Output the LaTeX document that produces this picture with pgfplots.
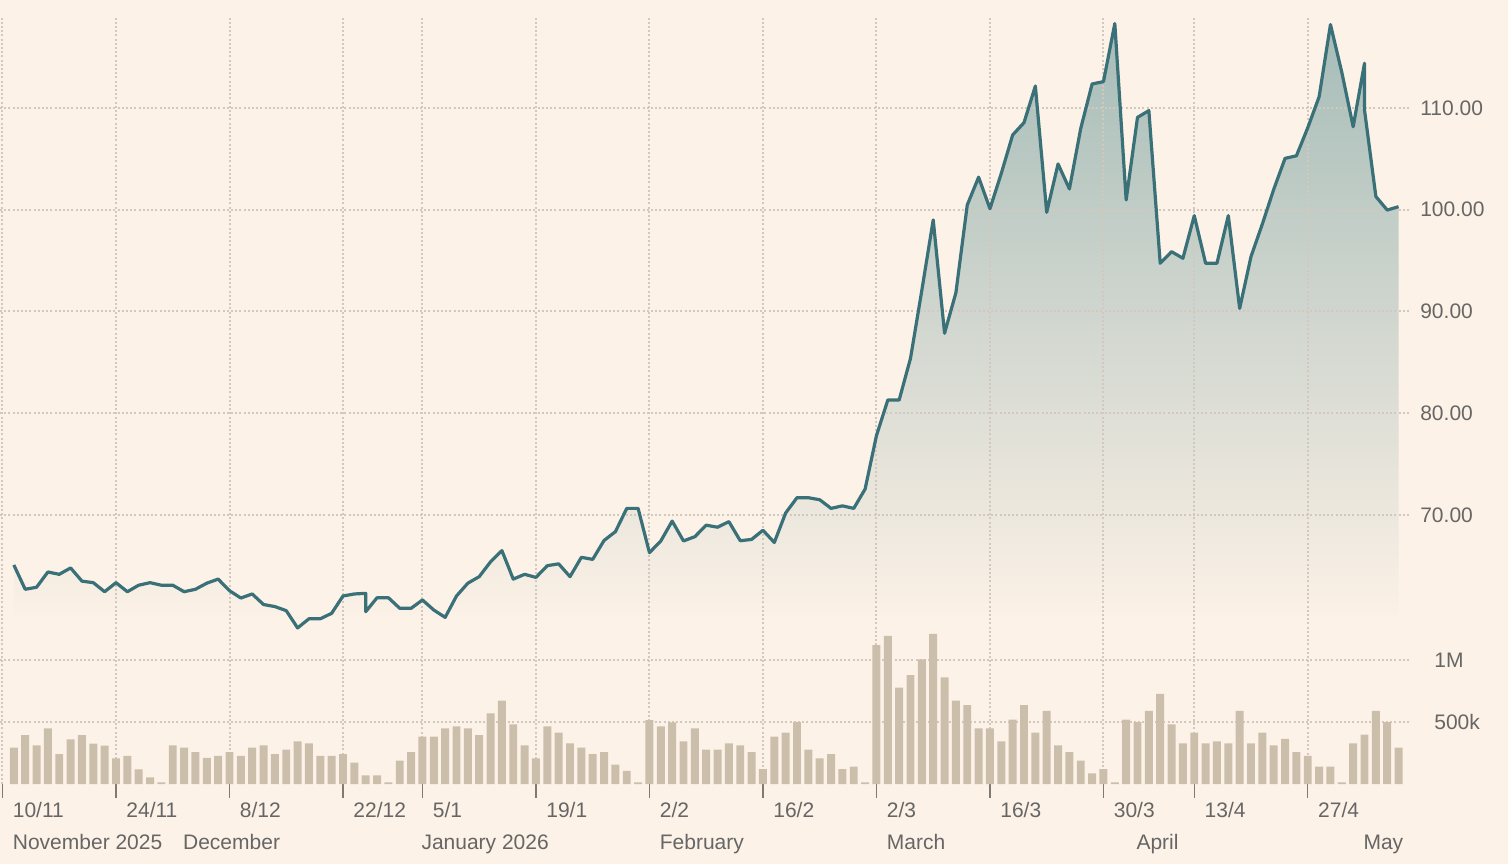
\documentclass[border=0pt]{standalone}
\usepackage{fontspec}
\setmainfont{Liberation Sans}
\usepackage{pgfplots}
\pgfplotsset{compat=1.18}
\definecolor{bg}{HTML}{FDF2E7}
\definecolor{gridc}{HTML}{D2C8BE}
\definecolor{linec}{HTML}{3A7077}
\definecolor{filltop}{HTML}{A6BCB8}
\definecolor{barc}{HTML}{CBBFAC}
\definecolor{txt}{HTML}{666666}
\definecolor{tickc}{HTML}{807A75}
\begin{document}
\begin{tikzpicture}
\useasboundingbox (0,0) rectangle (754pt,432pt);
\fill[bg] (0,0) rectangle (754pt,432pt);
\pgfplotsset{
 base/.style={scale only axis, width=704.95pt, height=383pt, xmin=-0.22, xmax=124,
   at={(0pt,40pt)}, anchor=south west, axis line style={draw=none},
   tick label style={font=\fontsize{10.5}{12}\selectfont, text=txt},
   grid style={draw=gridc, line width=1pt, dash pattern=on 1pt off 1.1pt}}
}
% price fill with horizontal price grid on top
\begin{axis}[base, ymin=43.563, ymax=118.845, xtick=\empty,
  ytick={70,80,90,100,110}, yticklabels={70.00,80.00,90.00,100.00,110.00},
  yticklabel pos=right, ymajorgrids, axis on top, major tick length=0pt,
  yticklabel style={anchor=west, inner sep=0pt, xshift=5pt}]
\addplot[draw=none, top color=filltop, bottom color=bg] coordinates {
(1,60) (1,65.09) (2,62.7) (3,62.9) (4,64.4) (5,64.17) (6,64.8) (7,63.5) (8,63.35) (9,62.46) (10,63.35)
(11,62.46) (12,63.1) (13,63.35) (14,63.1) (15,63.1) (16,62.46) (17,62.7) (18,63.3) (19,63.7) (20,62.56)
(21,61.84) (22,62.24) (23,61.2) (24,61.0) (25,60.6) (26,58.9) (27,59.8) (28,59.8) (29,60.34) (30,62.04)
(31,62.24) (32,62.3) (32,60.5) (33,61.87) (34,61.87) (35,60.83) (36,60.83) (37,61.65) (38,60.66) (39,59.94) (40,62.04)
(41,63.3) (42,63.94) (43,65.4) (44,66.5) (45,63.7) (46,64.17) (47,63.87) (48,65.02) (49,65.2) (50,63.94)
(51,65.84) (52,65.64) (53,67.5) (54,68.36) (55,70.65) (56,70.65) (57,66.3) (58,67.45) (59,69.4) (60,67.45)
(61,67.87) (62,69.0) (63,68.8) (64,69.35) (65,67.47) (66,67.6) (67,68.5) (68,67.3) (69,70.2) (70,71.7)
(71,71.7) (72,71.5) (73,70.65) (74,70.9) (75,70.65) (76,72.55) (77,77.8) (78,81.3) (79,81.3) (80,85.4)
(81,92.1) (82,99.0) (83,87.86) (84,91.85) (85,100.47) (86,103.2) (87,100.1) (88,103.58) (89,107.35) (90,108.56)
(91,112.16) (92,99.75) (93,104.5) (94,102.04) (95,108.0) (96,112.36) (97,112.59) (98,118.3) (99,100.96) (100,109.08)
(101,109.74) (102,94.74) (103,95.88) (104,95.23) (105,99.42) (106,94.74) (107,94.74) (108,99.42) (109,90.3) (110,95.4)
(111,98.6) (112,102.0) (113,105.05) (114,105.3) (115,108.06) (116,111.1) (117,118.2) (118,113.5) (119,108.16) (120,114.4)
(120,109.8) (121,101.3) (122,99.97) (123,100.3) (123,60)} -- cycle;
\end{axis}
% volume bars, x ticks, vertical grid
\begin{axis}[base, ymin=0, ymax=6177.4,
  xtick={0,10,20,30,37,47,57,67,77,87,97,105,115},
  xticklabels={10/11,24/11,8/12,22/12,5/1,19/1,2/2,16/2,2/3,16/3,30/3,13/4,27/4},
  xmajorgrids, ytick={500,1000}, yticklabels={500k,1M}, yticklabel pos=right, ymajorgrids,
  xtick pos=bottom, tick align=outside, major tick length=7pt,
  xtick style={draw=tickc, line width=0.65pt}, ytick style={draw=none},
  yticklabel style={anchor=west, inner sep=0pt, xshift=5pt},
  xticklabel style={anchor=base west, inner sep=0pt, xshift=5pt, yshift=-9.85pt},
  extra x ticks={0,15,36,57,77,99,119},
  extra x tick labels={November 2025,December,January 2026,February,March,April,May},
  extra x tick style={grid=none, major tick length=0pt, xticklabel style={yshift=-22.8pt}}]
\addplot[ybar, bar width=0.7, fill=barc, draw=none] coordinates {
(1,293) (2,395) (3,312) (4,449) (5,242) (6,360) (7,395) (8,325) (9,309) (10,207)
(11,226) (12,118) (13,54) (14,13) (15,312) (16,293) (17,258) (18,210) (19,226) (20,258)
(21,226) (22,293) (23,312) (24,242) (25,277) (26,344) (27,328) (28,226) (29,226) (30,242)
(31,172) (32,70) (33,70) (34,13) (35,188) (36,258) (37,382) (38,382) (39,449) (40,465)
(41,449) (42,395) (43,570) (44,672) (45,481) (46,312) (47,207) (48,465) (49,414) (50,328)
(51,293) (52,242) (53,258) (54,156) (55,105) (56,13) (57,516) (58,465) (59,497) (60,344)
(61,449) (62,277) (63,277) (64,328) (65,312) (66,258) (67,121) (68,382) (69,414) (70,500)
(71,277) (72,207) (73,242) (74,121) (75,140) (76,13) (77,1121) (78,1194) (79,777) (80,879)
(81,1005) (82,1210) (83,860) (84,672) (85,637) (86,449) (87,449) (88,344) (89,519) (90,637)
(91,414) (92,589) (93,312) (94,258) (95,188) (96,86) (97,121) (98,13) (99,519) (100,500)
(101,589) (102,726) (103,481) (104,328) (105,414) (106,328) (107,344) (108,328) (109,589) (110,328)
(111,414) (112,312) (113,363) (114,258) (115,226) (116,140) (117,140) (118,13) (119,328) (120,398)
(121,589) (122,500) (123,293)};
\end{axis}
% price line
\begin{axis}[base, ymin=43.563, ymax=118.845, hide axis, clip=false]
\addplot[linec, line width=1.6pt, line join=round] coordinates {
(1,65.09) (2,62.7) (3,62.9) (4,64.4) (5,64.17) (6,64.8) (7,63.5) (8,63.35) (9,62.46) (10,63.35)
(11,62.46) (12,63.1) (13,63.35) (14,63.1) (15,63.1) (16,62.46) (17,62.7) (18,63.3) (19,63.7) (20,62.56)
(21,61.84) (22,62.24) (23,61.2) (24,61.0) (25,60.6) (26,58.9) (27,59.8) (28,59.8) (29,60.34) (30,62.04)
(31,62.24) (32,62.3) (32,60.5) (33,61.87) (34,61.87) (35,60.83) (36,60.83) (37,61.65) (38,60.66) (39,59.94) (40,62.04)
(41,63.3) (42,63.94) (43,65.4) (44,66.5) (45,63.7) (46,64.17) (47,63.87) (48,65.02) (49,65.2) (50,63.94)
(51,65.84) (52,65.64) (53,67.5) (54,68.36) (55,70.65) (56,70.65) (57,66.3) (58,67.45) (59,69.4) (60,67.45)
(61,67.87) (62,69.0) (63,68.8) (64,69.35) (65,67.47) (66,67.6) (67,68.5) (68,67.3) (69,70.2) (70,71.7)
(71,71.7) (72,71.5) (73,70.65) (74,70.9) (75,70.65) (76,72.55) (77,77.8) (78,81.3) (79,81.3) (80,85.4)
(81,92.1) (82,99.0) (83,87.86) (84,91.85) (85,100.47) (86,103.2) (87,100.1) (88,103.58) (89,107.35) (90,108.56)
(91,112.16) (92,99.75) (93,104.5) (94,102.04) (95,108.0) (96,112.36) (97,112.59) (98,118.3) (99,100.96) (100,109.08)
(101,109.74) (102,94.74) (103,95.88) (104,95.23) (105,99.42) (106,94.74) (107,94.74) (108,99.42) (109,90.3) (110,95.4)
(111,98.6) (112,102.0) (113,105.05) (114,105.3) (115,108.06) (116,111.1) (117,118.2) (118,113.5) (119,108.16) (120,114.4)
(120,109.8) (121,101.3) (122,99.97) (123,100.3)};
\end{axis}
\end{tikzpicture}
\end{document}
